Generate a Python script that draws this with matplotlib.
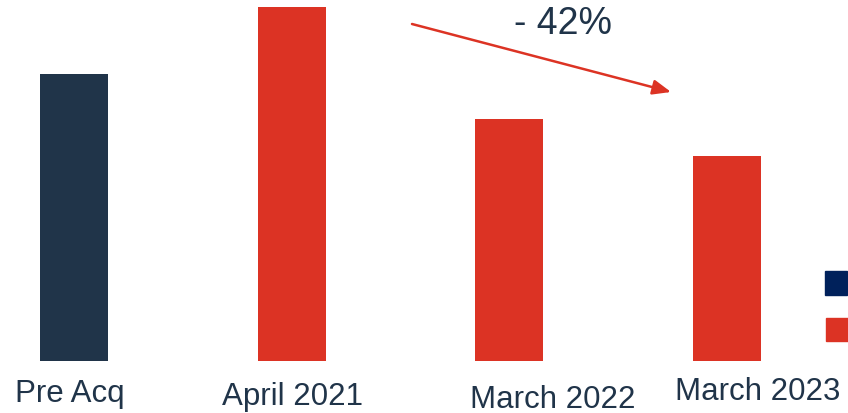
import matplotlib.pyplot as plt
from matplotlib.patches import Rectangle

# values relative to April 2021 = 100
categories = ["Pre Acq", "April 2021", "March 2022", "March 2023"]
values = [81, 100, 68.4, 58]
change_label = "- 42%"

navy = "#203449"
red = "#DC3324"
legend_navy = "#00215B"
text_col = "#203449"

W, H = 848, 414
fig = plt.figure(figsize=(W / 100, H / 100), dpi=100)
ax = fig.add_axes([0, 52 / H, 1, 362 / H])

step = 217.7
x = list(range(len(categories)))
colors = [navy, red, red, red]
ax.bar(x, values, width=68 / step, color=colors)
ax.set_xlim(-74 / step, (W - 74) / step)
ax.set_ylim(0, max(values) * 362 / 354)
ax.axis("off")

# category labels (slightly staggered as in the original slide)
label_pos = [(70, 394), (292, 397), (553, 400), (758, 392)]
for lab, (px, py) in zip(categories, label_pos):
    fig.text(px / W, 1 - py / H, lab, ha="center", va="center",
             fontsize=22.5, color=text_col, family="Liberation Sans")

# change arrow
ax.annotate("", xy=(671 / W, 1 - 93 / H), xycoords="figure fraction",
            xytext=(412 / W, 1 - 25 / H), textcoords="figure fraction",
            arrowprops=dict(arrowstyle="-|>,head_length=1.1,head_width=0.45",
                            color=red, lw=1.8, shrinkA=0, shrinkB=0))
fig.text(563 / W, 1 - 24 / H, change_label, ha="center", va="center",
         fontsize=27, color=text_col, family="Liberation Sans")

# legend swatches (cut off at right edge)
fig.add_artist(Rectangle((825 / W, 1 - 296 / H), 22 / W, 24 / H,
                         transform=fig.transFigure, color=legend_navy))
fig.add_artist(Rectangle((826 / W, 1 - 342 / H), 22 / W, 23 / H,
                         transform=fig.transFigure, color=red))

fig.savefig("out.png", dpi=100)
